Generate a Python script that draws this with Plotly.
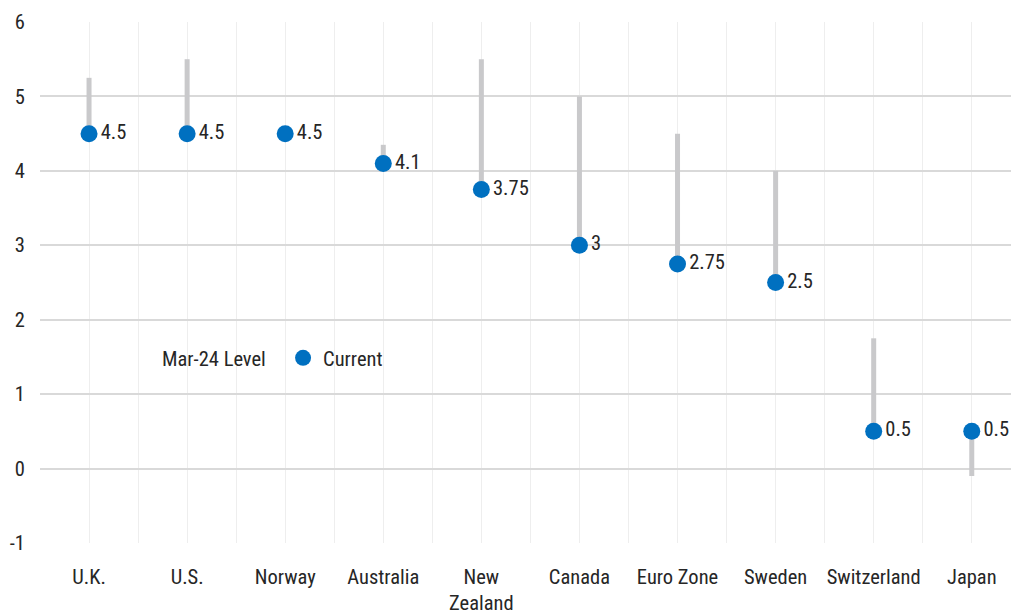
import plotly.graph_objects as go

categories = ["U.K.", "U.S.", "Norway", "Australia", "New<br>Zealand",
              "Canada", "Euro Zone", "Sweden", "Switzerland", "Japan"]
mar24_level = [5.25, 5.5, 4.5, 4.35, 5.5, 5.0, 4.5, 4.0, 1.75, -0.1]
current = [4.5, 4.5, 4.5, 4.1, 3.75, 3.0, 2.75, 2.5, 0.5, 0.5]
y_ticks = [-1, 0, 1, 2, 3, 4, 5, 6]
y_tick_labels = ["-1", "0", "1", "2", "3", "4", "5", "6"]

FONT = "Roboto Condensed, Liberation Sans Narrow, Arial Narrow, Roboto, sans-serif"
TXT = "#262626"
FS = 20.5

xpos = list(range(len(categories)))
err_plus = [max(0, c - m) for m, c in zip(mar24_level, current)]
err_minus = [max(0, m - c) for m, c in zip(mar24_level, current)]

fig = go.Figure()
fig.add_trace(go.Scatter(
    x=xpos, y=mar24_level, name="Mar-24 Level", mode="markers",
    marker=dict(size=10, color="rgba(0,0,0,0)"),
    error_y=dict(type="data", symmetric=False, array=err_plus, arrayminus=err_minus,
                 thickness=5, width=0, color="#c9c9cb"),
    hoverinfo="skip",
))
fig.add_trace(go.Scatter(
    x=xpos, y=current, name="Current", mode="markers+text",
    marker=dict(size=17, color="#0070C0"),
    text=[f"{v:g}" for v in current], textposition="middle right",
    textfont=dict(family=FONT, size=FS, color=TXT),
    cliponaxis=False,
))

fig.update_layout(
    width=1011, height=615,
    margin=dict(l=40, r=0, t=22, b=72),
    paper_bgcolor="white", plot_bgcolor="white",
    font=dict(family=FONT, size=FS, color=TXT),
    showlegend=True,
    legend=dict(orientation="h", x=0.0845, y=0.355, xanchor="left", yanchor="middle",
                bgcolor="rgba(0,0,0,0)", font=dict(family=FONT, size=FS, color=TXT),
                itemwidth=30, entrywidth=116),
    xaxis=dict(
        range=[-0.5, 9.4], tickmode="array", tickvals=xpos, ticktext=categories,
        showgrid=True, gridcolor="#eeeeee", gridwidth=1,
        minor=dict(dtick=0.5, tick0=0.5, showgrid=True, gridcolor="#eeeeee", gridwidth=1),
        ticks="outside", ticklen=15, tickcolor="rgba(0,0,0,0)",
        zeroline=False, showline=False,
        tickfont=dict(family=FONT, size=FS, color=TXT),
    ),
    yaxis=dict(
        range=[-1, 6], tickmode="array", tickvals=y_ticks, ticktext=y_tick_labels,
        showgrid=True, gridcolor="#d9d9d9", gridwidth=1.5,
        zeroline=False, showline=False,
        ticks="outside", ticklen=10, tickcolor="rgba(0,0,0,0)",
        tickfont=dict(family=FONT, size=FS, color=TXT),
    ),
)

fig.write_html("out.html")
